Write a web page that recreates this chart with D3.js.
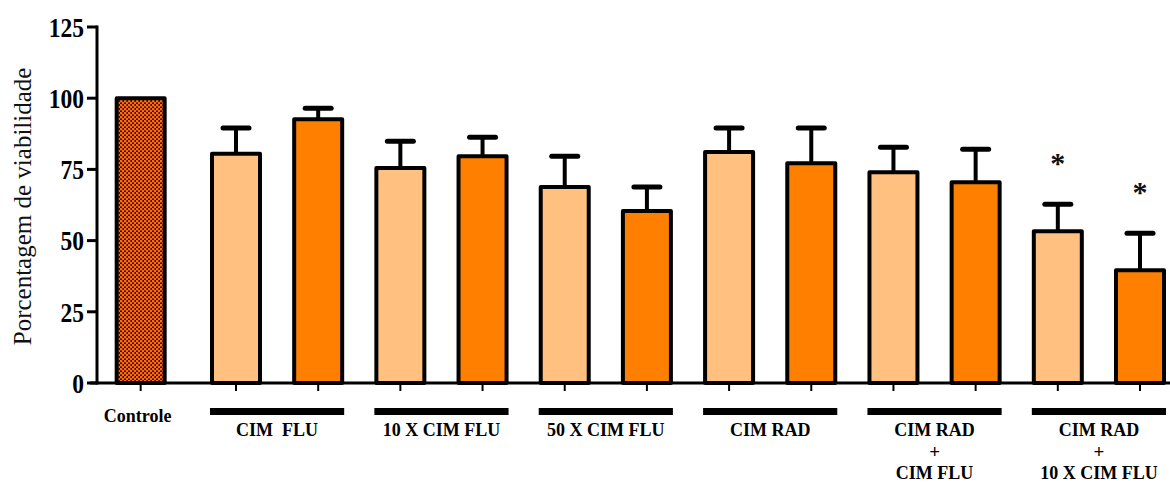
<!DOCTYPE html>
<html>
<head>
<meta charset="utf-8">
<script src="https://cdn.jsdelivr.net/npm/d3@7"></script>
<style>
  html, body { margin: 0; padding: 0; background: #fff; }
  svg { display: block; }
  text { font-family: "Liberation Serif", "Times New Roman", serif; white-space: pre; }
</style>
</head>
<body>
<svg id="chart" width="1170" height="485"></svg>
<script>
// Viability (%) for the control and each treatment pair
const controlLabel = "Controle";
const controlValue = 100;

const groupNames = [
  ["CIM  FLU"],
  ["10 X CIM FLU"],
  ["50 X CIM FLU"],
  ["CIM RAD"],
  ["CIM RAD", "+", "CIM FLU"],
  ["CIM RAD", "+", "10 X CIM FLU"]
];
// first bar of each pair (light) and second bar (dark)
const lightMeans = [80.5, 75.5, 68.8, 81.1, 74.0, 53.3];
const lightErrors = [9.0, 9.4, 10.8, 8.4, 8.8, 9.5];
const darkMeans = [92.6, 79.6, 60.4, 77.2, 70.5, 39.6];
const darkErrors = [3.9, 6.7, 8.4, 12.3, 11.6, 13.0];
const significant = [false, false, false, false, false, false, false, false, false, false, true, true];

const yTicks = [0, 25, 50, 75, 100, 125];
const yTitle = "Porcentagem de viabilidade";

// ---- layout ----
const svg = d3.select("#chart");
const y = d3.scaleLinear().domain([0, 125]).range([383, 27]);
// treatment bars sit on an even grid; the control bar is set apart by a wider gap
const slot = d3.scaleLinear().domain([0, 11]).range([236, 1140]);
const controlGap = 1.16;
const barW = 48;
const axisX = 97;

const lightColor = "#ffc080";
const darkColor = "#ff8000";

// checker pattern for the control bar
const defs = svg.append("defs");
const pat = defs.append("pattern")
  .attr("id", "checker").attr("patternUnits", "userSpaceOnUse")
  .attr("width", 4).attr("height", 4);
pat.append("rect").attr("width", 4).attr("height", 4).attr("fill", "#3a1000");
pat.append("rect").attr("x", 0).attr("y", 0).attr("width", 2.4).attr("height", 2.4).attr("fill", "#ff6a14");
pat.append("rect").attr("x", 2).attr("y", 2).attr("width", 2.4).attr("height", 2.4).attr("fill", "#ff6a14");

// flatten treatment bars
const bars = [];
lightMeans.forEach((m, i) => {
  bars.push({ idx: 2 * i, mean: m, err: lightErrors[i], fill: lightColor });
  bars.push({ idx: 2 * i + 1, mean: darkMeans[i], err: darkErrors[i], fill: darkColor });
});
bars.forEach(b => { b.sig = significant[b.idx]; b.cx = slot(b.idx); });

const controlX = slot(-controlGap);

// ---- y axis ----
const yAxisG = svg.append("g").attr("transform", `translate(${axisX},0)`);
yAxisG.append("line").attr("x1", 0).attr("x2", 0).attr("y1", y(125) - 1.5).attr("y2", y(0) + 1.5)
  .attr("stroke", "#000").attr("stroke-width", 3);
yAxisG.selectAll(".tk").data(yTicks).join("line")
  .attr("x1", -10).attr("x2", 0).attr("y1", d => y(d)).attr("y2", d => y(d))
  .attr("stroke", "#000").attr("stroke-width", 3);
yAxisG.selectAll(".tl").data(yTicks).join("text")
  .attr("transform", d => `translate(-13,${y(d)}) scale(0.84,1)`)
  .attr("dy", "0.35em")
  .attr("text-anchor", "end").attr("font-size", 28).attr("font-weight", "bold")
  .text(d => d);

svg.append("text")
  .attr("transform", `translate(31,${y(62)}) rotate(-90)`)
  .attr("text-anchor", "middle").attr("font-size", 25).attr("fill", "#111")
  .text(yTitle);

// ---- x axis ----
svg.append("line").attr("x1", 90).attr("x2", 1170).attr("y1", y(0)).attr("y2", y(0))
  .attr("stroke", "#000").attr("stroke-width", 3);
const tickXs = [controlX].concat(bars.map(b => b.cx));
svg.selectAll(".xt").data(tickXs).join("line")
  .attr("x1", d => d).attr("x2", d => d).attr("y1", y(0)).attr("y2", y(0) + 8)
  .attr("stroke", "#000").attr("stroke-width", 2);

// ---- control bar ----
svg.append("rect")
  .attr("x", controlX - barW / 2).attr("y", y(controlValue))
  .attr("width", barW).attr("height", y(0) - y(controlValue))
  .attr("fill", "url(#checker)").attr("stroke", "#000").attr("stroke-width", 4)
  .attr("stroke-linejoin", "round");

svg.append("text").attr("x", controlX - 3).attr("y", 422)
  .attr("text-anchor", "middle").attr("font-size", 18).attr("font-weight", "bold")
  .text(controlLabel);

// ---- error bars (drawn below bars) ----
const errG = svg.append("g");
errG.selectAll(".ev").data(bars).join("line")
  .attr("x1", d => d.cx).attr("x2", d => d.cx)
  .attr("y1", d => y(d.mean)).attr("y2", d => y(d.mean + d.err))
  .attr("stroke", "#000").attr("stroke-width", 4);
errG.selectAll(".ec").data(bars).join("line")
  .attr("x1", d => d.cx - 13).attr("x2", d => d.cx + 13)
  .attr("y1", d => y(d.mean + d.err)).attr("y2", d => y(d.mean + d.err))
  .attr("stroke", "#000").attr("stroke-width", 5).attr("stroke-linecap", "round");

// ---- treatment bars ----
svg.selectAll(".bar").data(bars).join("rect")
  .attr("x", d => d.cx - barW / 2).attr("y", d => y(d.mean))
  .attr("width", barW).attr("height", d => y(0) - y(d.mean))
  .attr("fill", d => d.fill).attr("stroke", "#000").attr("stroke-width", 4)
  .attr("stroke-linejoin", "round");

// significance marks
svg.selectAll(".sig").data(bars.filter(b => b.sig)).join("text")
  .attr("x", d => d.cx).attr("y", d => y(d.mean + d.err) - 52)
  .attr("dy", "0.7em").attr("text-anchor", "middle")
  .attr("font-size", 30).attr("font-weight", "bold").attr("fill", "#111")
  .text("*");

// ---- group brackets and labels ----
const groups = groupNames.map((lines, i) => {
  const a = slot(2 * i), b = slot(2 * i + 1);
  return { lines, x0: a - barW / 2 - 2, x1: b + barW / 2 + 2, cx: (a + b) / 2 };
});
svg.selectAll(".gb").data(groups).join("rect")
  .attr("x", d => d.x0).attr("y", 408).attr("width", d => d.x1 - d.x0).attr("height", 7)
  .attr("fill", "#000");
const lineY = [436, 458, 479];
groups.forEach(g => {
  svg.append("g").selectAll("text").data(g.lines).join("text")
    .attr("x", g.cx).attr("y", (t, j) => lineY[j])
    .attr("text-anchor", "middle").attr("font-weight", "bold")
    .attr("font-size", t => t === "+" ? 19 : 18)
    .text(t => t);
});
</script>
</body>
</html>
